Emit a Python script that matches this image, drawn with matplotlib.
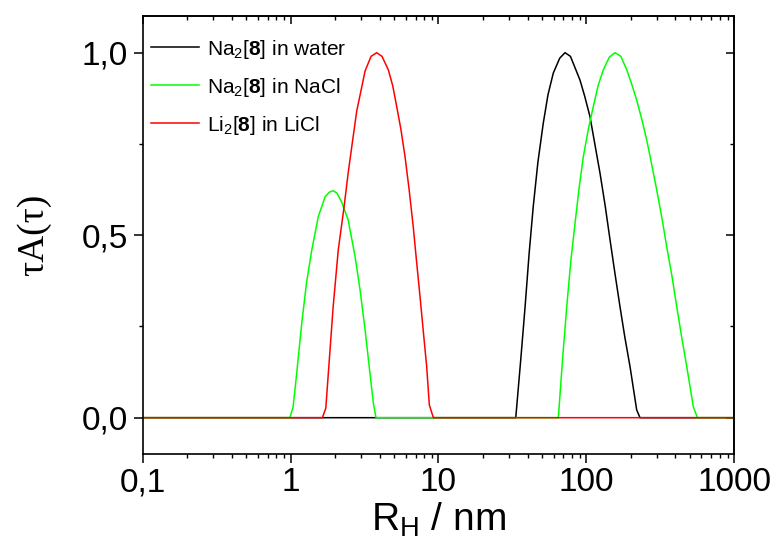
# -*- coding: utf-8 -*-
import matplotlib
matplotlib.use('Agg')
import matplotlib.pyplot as plt
from matplotlib.ticker import FixedLocator, NullFormatter

plt.rcParams['font.family'] = ['Liberation Sans', 'DejaVu Sans']
plt.rcParams['mathtext.fontset'] = 'custom'
plt.rcParams['mathtext.rm'] = 'Liberation Sans'
plt.rcParams['mathtext.bf'] = 'Liberation Sans:bold'
plt.rcParams['mathtext.it'] = 'Liberation Sans:italic'

# Na2[8] em agua (preto)
rh_agua = [0.1, 33.3, 36.0, 38.5, 41.0, 43.7, 47.0, 51.1, 55.0, 59.7, 66.0, 71.7, 78.0,
           90.5, 97.5, 105.7, 114.0, 123.6, 134.0, 144.5, 156.0, 168.7, 182.0, 197.2,
           218.8, 230.4, 1000]
ta_agua = [0.0, 0.0, 0.16, 0.304, 0.45, 0.578, 0.70, 0.807, 0.885, 0.944, 0.985, 1.0, 0.99,
           0.925, 0.88, 0.825, 0.75, 0.670, 0.58, 0.487, 0.395, 0.304, 0.22, 0.140,
           0.021, 0.0, 0.0]

# Na2[8] em NaCl (verde)
rh_nacl = [0.1, 0.99, 1.04, 1.10, 1.19, 1.28, 1.39, 1.54, 1.71, 1.83, 1.94, 2.06, 2.22, 2.45,
           2.73, 2.95, 3.19, 3.44, 3.63, 3.78,
           64.6, 69.0, 73.6, 78.5, 83.8, 89.3, 95.3, 103.0, 111.3, 120.0, 130.1, 143.0, 156.1,
           171.0, 187.4, 202.0, 218.8, 236.0, 255.7, 276.0, 298.8, 323.0, 349.2, 378.0,
           408.1, 441.0, 476.9, 528.3, 562.6, 1000]
ta_nacl = [0.0, 0.0, 0.030, 0.122, 0.259, 0.368, 0.459, 0.551, 0.605, 0.618, 0.622, 0.615,
           0.590, 0.542, 0.441, 0.350, 0.240, 0.122, 0.039, 0.0,
           0.0, 0.16, 0.304, 0.43, 0.533, 0.63, 0.715, 0.79, 0.852, 0.91, 0.953, 0.988, 1.0,
           0.99, 0.953, 0.915, 0.870, 0.82, 0.761, 0.695, 0.624, 0.55, 0.468, 0.39,
           0.304, 0.22, 0.140, 0.030, 0.0, 0.0]

# Li2[8] em LiCl (vermelho)
rh_licl = [0.1, 1.64, 1.73, 1.80, 1.94, 2.10, 2.30, 2.45, 2.63, 2.80, 3.19, 3.50, 3.82,
           4.15, 4.58, 4.90, 5.22, 5.57, 5.94, 6.33, 6.75, 7.10, 7.50, 7.90, 8.32, 8.67,
           9.23, 1000]
ta_licl = [0.0, 0.0, 0.026, 0.122, 0.304, 0.459, 0.578, 0.670, 0.761, 0.840, 0.950, 0.990, 1.0,
           0.990, 0.953, 0.91, 0.852, 0.79, 0.715, 0.625, 0.523, 0.43, 0.332, 0.235, 0.140,
           0.035, 0.0, 0.0]

legendas = [r'Na$_2$[$\mathbf{8}$] in water', r'Na$_2$[$\mathbf{8}$] in NaCl',
            r'Li$_2$[$\mathbf{8}$] in LiCl']
cores = ['#000000', '#00ff00', '#ff0000']

x_ticks = [0.1, 1, 10, 100, 1000]
x_rotulos = ['0,1', '1', '10', '100', '1000']
y_ticks = [0.0, 0.5, 1.0]
y_rotulos = ['0,0', '0,5', '1,0']
y_minor = [0.25, 0.75]

fig = plt.figure(figsize=(7.75, 5.49), dpi=100)
ax = fig.add_axes([0.1841, 0.1727, 0.7634, 0.7978])

ax.plot(rh_agua, ta_agua, color=cores[0], lw=1.1, label=legendas[0])
ax.plot(rh_nacl, ta_nacl, color=cores[1], lw=1.1, label=legendas[1])
ax.plot(rh_licl, ta_licl, color=cores[2], lw=1.1, label=legendas[2])

ax.set_xscale('log')
ax.set_xlim(0.1, 1000)
ax.set_ylim(-0.1, 1.1)
ax.set_xticks(x_ticks)
ax.set_xticklabels(x_rotulos)
ax.set_yticks(y_ticks)
ax.set_yticklabels(y_rotulos)
ax.yaxis.set_minor_locator(FixedLocator(y_minor))
ax.xaxis.set_minor_formatter(NullFormatter())

for s in ax.spines.values():
    s.set_linewidth(1.2)

ax.tick_params(which='major', direction='out', length=6.5, width=1.1, labelsize=24, pad=3)
ax.tick_params(which='minor', direction='out', length=3.2, width=1.0)
ax.tick_params(axis='y', which='major', pad=4)

# eixos espelhados (topo e direita) com ticks para dentro
topo = ax.secondary_xaxis('top')
topo.set_xticks(x_ticks)
topo.tick_params(which='major', direction='in', length=6, width=1.1, labeltop=False)
topo.tick_params(which='minor', direction='in', length=3, width=1.0)
topo.xaxis.set_minor_formatter(NullFormatter())
topo.spines['top'].set_linewidth(1.2)

direita = ax.secondary_yaxis('right')
direita.set_yticks(y_ticks)
direita.yaxis.set_minor_locator(FixedLocator(y_minor))
direita.tick_params(which='major', direction='in', length=6, width=1.1, labelright=False)
direita.tick_params(which='minor', direction='in', length=3, width=1.0)
direita.spines['right'].set_linewidth(1.2)

ax.set_xlabel(r'R$_\mathrm{H}$ / nm', fontsize=28, labelpad=2)
ax.set_ylabel('τA(τ)', fontsize=27, family=['Liberation Serif', 'DejaVu Serif'], labelpad=22)

ax.legend(loc='upper left', bbox_to_anchor=(0.0, 0.97), frameon=False, fontsize=15,
          handlelength=2.3, handletextpad=0.4, labelspacing=0.72, borderpad=0,
          borderaxespad=0.4)

fig.savefig('out.png', dpi=100)
